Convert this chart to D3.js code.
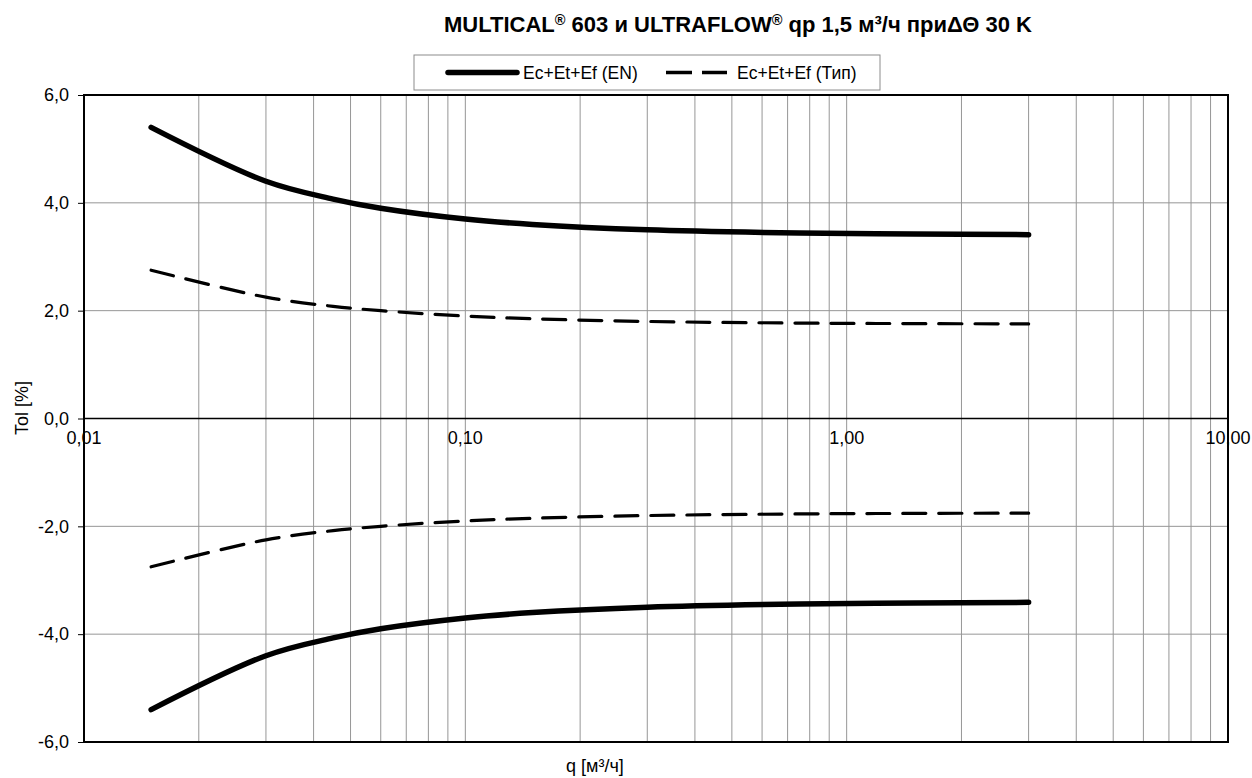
<!DOCTYPE html>
<html><head><meta charset="utf-8">
<script src="https://cdn.jsdelivr.net/npm/d3@7"></script>
<style>body{margin:0;background:#fff}svg{display:block;font-family:"Liberation Sans",Arial,sans-serif}</style>
</head><body>
<svg id="c" width="1252" height="778"></svg>
<script>
// data
const qValues = [0.015, 0.03, 0.045, 0.06, 0.1, 0.15, 0.3, 0.75, 1.5, 3.0];
const enUpper = [5.40, 4.40, 4.07, 3.90, 3.70, 3.60, 3.50, 3.44, 3.42, 3.41];
const enLower = [-5.40, -4.40, -4.07, -3.90, -3.70, -3.60, -3.50, -3.44, -3.42, -3.41];
const typUpper = [2.75, 2.25, 2.08, 2.00, 1.90, 1.85, 1.80, 1.77, 1.76, 1.755];
const typLower = [-2.75, -2.25, -2.08, -2.00, -1.90, -1.85, -1.80, -1.77, -1.76, -1.755];
const xTickValues = [0.01, 0.1, 1, 10];
const xTickLabels = ["0,01", "0,10", "1,00", "10,00"];
const yTickValues = [-6, -4, -2, 0, 2, 4, 6];
const yTickLabels = ["-6,0", "-4,0", "-2,0", "0,0", "2,0", "4,0", "6,0"];
const titleParts = [["MULTICAL", false], ["®", true], [" 603 и ULTRAFLOW", false], ["®", true], [" qp 1,5 м³/ч приΔΘ 30 K", false]];
const legendLabels = ["Ec+Et+Ef (EN)", "Ec+Et+Ef (Тип)"];

const svg = d3.select("#c");
const L = 84, R = 1228, T = 95, B = 742;
const x = d3.scaleLog().domain([0.01, 10]).range([L, R]);
const y = d3.scaleLinear().domain([-6, 6]).range([B, T]);

// minor grid
const minor = [];
for (let d = 0.01; d < 10; d *= 10) for (let k = 1; k <= 9; k++) minor.push(+(d * k).toPrecision(3));
svg.append("g").selectAll("line").data(minor.filter(v => v > 0.01 && v < 10)).join("line")
  .attr("x1", d => x(d)).attr("x2", d => x(d)).attr("y1", T).attr("y2", B)
  .attr("stroke", "#969696").attr("stroke-width", 1);
svg.append("g").selectAll("line").data(yTickValues.filter(v => v !== 0 && Math.abs(v) !== 6)).join("line")
  .attr("x1", L).attr("x2", R).attr("y1", d => y(d)).attr("y2", d => y(d))
  .attr("stroke", "#969696").attr("stroke-width", 1);

// zero line
svg.append("line").attr("x1", L).attr("x2", R).attr("y1", y(0)).attr("y2", y(0))
  .attr("stroke", "#000").attr("stroke-width", 1.3);

// plot border
svg.append("rect").attr("x", L).attr("y", T).attr("width", R - L).attr("height", B - T)
  .attr("fill", "none").attr("stroke", "#000").attr("stroke-width", 2);

// y axis
const yAxis = d3.axisLeft(y).tickValues(yTickValues).tickSize(6).tickPadding(9)
  .tickFormat(d => yTickLabels[yTickValues.indexOf(d)]);
const ga = svg.append("g").attr("transform", `translate(${L},0)`).call(yAxis);
ga.attr("font-size", null).attr("font-family", null);
ga.select(".domain").remove();
ga.selectAll("text").attr("font-size", 18).attr("fill", "#000");
ga.selectAll("line").attr("stroke", "#000");

// x labels
svg.append("g").selectAll("text").data(xTickValues).join("text")
  .attr("x", d => x(d)).attr("y", y(0) + 25).attr("text-anchor", "middle")
  .attr("font-size", 18).text((d, i) => xTickLabels[i]);

// lines
const line = d3.line().x(d => x(d[0])).y(d => y(d[1])).curve(d3.curveCatmullRom.alpha(0.5));
const zip = arr => qValues.map((q, i) => [q, arr[i]]);
[enUpper, enLower].forEach(a => svg.append("path").attr("d", line(zip(a)))
  .attr("fill", "none").attr("stroke", "#000").attr("stroke-width", 5.5).attr("stroke-linecap", "round"));
[typUpper, typLower].forEach(a => svg.append("path").attr("d", line(zip(a)))
  .attr("fill", "none").attr("stroke", "#000").attr("stroke-width", 3.2)
  .attr("stroke-dasharray", "23,13").attr("stroke-linecap", "round"));

// title
const tt = svg.append("text").attr("x", 738).attr("y", 32).attr("text-anchor", "middle")
  .attr("font-size", 22).attr("font-weight", "bold");
titleParts.forEach(([s, sup], i) => {
  const prevSup = i > 0 && titleParts[i - 1][1];
  const sp = tt.append("tspan").text(s).attr("dy", sup ? -7 : (prevSup ? 7 : 0));
  if (sup) sp.attr("font-size", 14.5);
});

// legend
svg.append("rect").attr("x", 414).attr("y", 55).attr("width", 466).attr("height", 35)
  .attr("fill", "#fff").attr("stroke", "#8c8c8c").attr("stroke-width", 1);
svg.append("line").attr("x1", 448).attr("x2", 517).attr("y1", 72.5).attr("y2", 72.5)
  .attr("stroke", "#000").attr("stroke-width", 5.5).attr("stroke-linecap", "round");
svg.append("text").attr("x", 523).attr("y", 78.5).attr("font-size", 17.5).text(legendLabels[0]);
svg.append("line").attr("x1", 666).attr("x2", 727).attr("y1", 72.5).attr("y2", 72.5)
  .attr("stroke", "#000").attr("stroke-width", 3.5).attr("stroke-dasharray", "26,10");
svg.append("text").attr("x", 737).attr("y", 78.5).attr("font-size", 17.5).text(legendLabels[1]);

// axis titles
svg.append("text").attr("transform", "translate(28,408) rotate(-90)").attr("text-anchor", "middle")
  .attr("font-size", 18).text("Tol [%]");
svg.append("text").attr("x", 595).attr("y", 772).attr("text-anchor", "middle")
  .attr("font-size", 18).text("q [м³/ч]");
</script>
</body></html>
